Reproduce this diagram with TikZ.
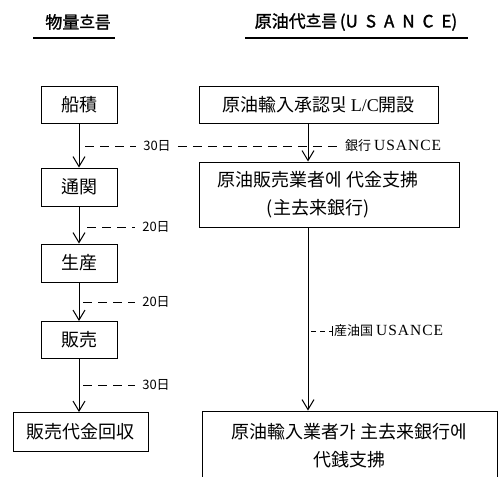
\documentclass[tikz,border=0pt]{standalone}
\usepackage{fontspec}
\usepackage{tikz}
\usetikzlibrary{arrows.meta}
\setmainfont{Liberation Serif}
\newfontfamily\kr{Noto Sans CJK KR}
\newfontfamily\krb[FakeBold=1.5]{Noto Sans CJK KR}

\tikzset{
    box/.style={draw, line width=1pt, inner sep=0pt, font=\kr\fontsize{18}{28}\selectfont, align=center},
    head/.style={font=\krb\fontsize{17}{19}\selectfont},
    days/.style={font=\kr\fontsize{13}{15}\selectfont, inner xsep=7pt},
    flow/.style={line width=1pt, -{Straight Barb[length=10pt,width=12pt,line width=1pt]}},
    gap/.style={line width=0.9pt, dash pattern=on 9pt off 6pt}
}
\newcommand\usance{{\rmfamily\fontsize{15.5}{16}\selectfont U\kern1ptS\kern1ptA\kern1ptN\kern1ptC\kern1ptE}}

\begin{document}
\begin{tikzpicture}[x=1pt,y=-1pt]
    \useasboundingbox (0,0) rectangle (504,477);

    % headers
    \node[head] (h1) at (78,22) {物量흐름};
    \node[head] (h2) at (356,22) {原油代흐름\,(U\hspace{8pt}S\hspace{8pt}A\hspace{8pt}N\hspace{8pt}C\hspace{8pt}E)};
    \draw[line width=1.2pt] (33,38) -- (115,38);
    \draw[line width=1.2pt] (245,38) -- (468,38);

    % left column
    \node[box, minimum width=76pt, minimum height=37pt] (l1) at (79,105) {船積};
    \node[box, minimum width=76pt, minimum height=38pt] (l2) at (79,187) {通関};
    \node[box, minimum width=76pt, minimum height=38pt] (l3) at (79,263) {生産};
    \node[box, minimum width=76pt, minimum height=37pt] (l4) at (79,340) {販売};
    \node[box, minimum width=135pt, minimum height=39pt] (l5) at (80.5,432) {販売代金回収};

    \draw[flow] (l1.south) -- (l2.north);
    \draw[flow] (l2.south) -- (l3.north);
    \draw[flow] (l3.south) -- (l4.north);
    \draw[flow] (l4.south) -- (l4.south |- l5.north);

    % right column
    \node[box, minimum width=239pt, minimum height=37pt] (r1) at (318.5,105) {原油輸入承認및 {\rmfamily L/C}開設};
    \node[box, minimum width=260pt, minimum height=65pt,
        label={[xshift=-11pt, align=center, font=\kr\fontsize{18}{28}\selectfont]center:{原油販売業者에 代金支拂\\(主去来銀行)}}] (r2) at (329,194.5) {};
    \node[box, minimum width=295pt, minimum height=70pt] (r3) at (349.5,446) {原油輸入業者가 主去来銀行에\\代銭支拂};

    \draw[flow] (308,0 |- r1.south) -- (308,0 |- r2.north);
    \draw[flow] (308,0 |- r2.south) -- (308,0 |- r3.north);

    % days between steps
    \node[days] (d1) at (157,146) {30日};
    \node[days, anchor=west] (u1) at (338,146) {銀行 \usance};
    \coordinate (c1) at (85,146);
    \draw[gap] (c1) -- (d1.west);
    \draw[gap] (d1.east) -- (u1.west);

    \node[days] (d2) at (156,227) {20日};
    \coordinate (c2) at (87,227);
    \draw[gap] (c2) -- (d2.west);

    \node[days] (d3) at (156,302) {20日};
    \coordinate (c3) at (83,302);
    \draw[gap] (c3) -- (d3.west);

    \node[days] (d4) at (156,385) {30日};
    \coordinate (c4) at (83,385);
    \draw[gap] (c4) -- (d4.west);

    \node[days, anchor=west, inner xsep=1pt] (u2) at (333,331) {産油国 \usance};
    \coordinate (c5) at (311,331);
    \draw[gap, dash pattern=on 5pt off 4pt, -{Bar[width=10pt,line width=0.9pt]}] (c5) -- (u2.west);
\end{tikzpicture}
\end{document}
